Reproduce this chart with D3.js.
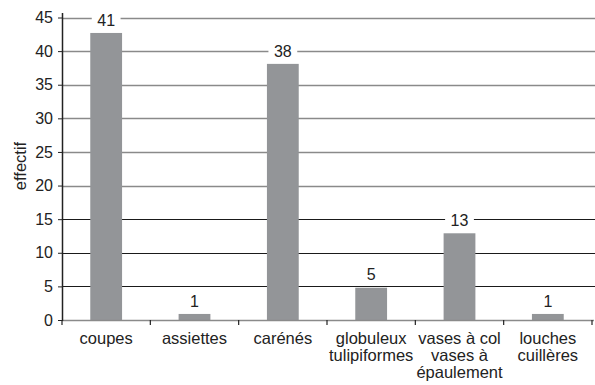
<!DOCTYPE html>
<html><head><meta charset="utf-8">
<script src="https://cdn.jsdelivr.net/npm/d3@7"></script>
<style>body{margin:0;background:#fff}svg{display:block}text{font-family:"Liberation Sans",Arial,sans-serif;fill:#222}</style>
</head><body>
<script>
const categories = [["coupes"],["assiettes"],["carénés"],["globuleux","tulipiformes"],["vases à col","vases à","épaulement"],["louches","cuillères"]];
const barValues = [42.7, 0.9, 38.1, 4.8, 12.9, 0.9];
const valueLabels = ["41","1","38","5","13","1"];
const yTicks = [0,5,10,15,20,25,30,35,40,45];
const yTitle = "effectif";

const W=595,H=385;
const svg=d3.select("body").append("svg").attr("width",W).attr("height",H);
const keys=categories.map((c,i)=>i);
const x=d3.scaleBand().domain(keys).range([62,592]).paddingInner(0.64).paddingOuter(0.32);
const y=d3.scaleLinear().domain([0,45]).range([320,17.5]);

// gridlines
svg.append("g").selectAll("line").data(yTicks.filter(t=>t>0)).join("line")
 .attr("x1",62).attr("x2",595).attr("y1",d=>Math.round(y(d))+0.5).attr("y2",d=>Math.round(y(d))+0.5)
 .attr("stroke",d=>d>=20?"#8a8a8a":"#1a1a1a").attr("stroke-width",d=>d>=20?1.6:1.2);

// bars
svg.append("g").selectAll("rect").data(barValues).join("rect")
 .attr("x",(d,i)=>x(i)).attr("width",x.bandwidth())
 .attr("y",d=>y(d)).attr("height",d=>y(0)-y(d)).attr("fill","#939598");

// x baseline
svg.append("line").attr("x1",62).attr("x2",594).attr("y1",320.5).attr("y2",320.5).attr("stroke","#8a8a8a").attr("stroke-width",1.5);
// x ticks at category boundaries
const step=x.step();
svg.append("g").selectAll("line").data(d3.range(categories.length+1)).join("line")
 .attr("x1",d=>62+d*step).attr("x2",d=>62+d*step).attr("y1",320).attr("y2",325)
 .attr("stroke","#222").attr("stroke-width",1.2);

// y axis
const ya=svg.append("g").attr("transform","translate(62,0)").call(d3.axisLeft(y).tickValues(yTicks).tickSize(4).tickPadding(5));
ya.select(".domain").attr("d","M0.5,13V321").attr("stroke","#222").attr("stroke-width",1.5);
ya.selectAll(".tick line").attr("stroke","#222");
ya.selectAll("text").style("font-size","16px").style("font-family","Liberation Sans, Arial, sans-serif").attr("fill","#222");

// y title
svg.append("text").attr("transform","translate(26,166) rotate(-90)").attr("text-anchor","middle")
 .style("font-size","16.5px").text(yTitle);

// x labels
const xl=svg.append("g").selectAll("text").data(categories).join("text")
 .attr("text-anchor","middle").attr("x",(d,i)=>x(i)+x.bandwidth()/2).style("font-size","16.5px");
xl.selectAll("tspan").data(d=>d).join("tspan")
 .attr("x",function(){return this.parentNode.getAttribute("x");})
 .attr("y",(d,j)=>344+j*17).text(d=>d);

// value labels
const vl=svg.append("g").selectAll("g").data(barValues).join("g")
 .attr("transform",(d,i)=>`translate(${x(i)+x.bandwidth()/2},${Math.max(y(d)-13,y(45))})`);
vl.append("rect").attr("x",(d,i)=>-valueLabels[i].length*4.7-5).attr("width",(d,i)=>valueLabels[i].length*9.4+10)
 .attr("y",-9).attr("height",18).attr("fill","#fff");
vl.append("text").attr("text-anchor","middle").attr("dy","0.36em").style("font-size","16px").text((d,i)=>valueLabels[i]);
</script>
</body></html>
